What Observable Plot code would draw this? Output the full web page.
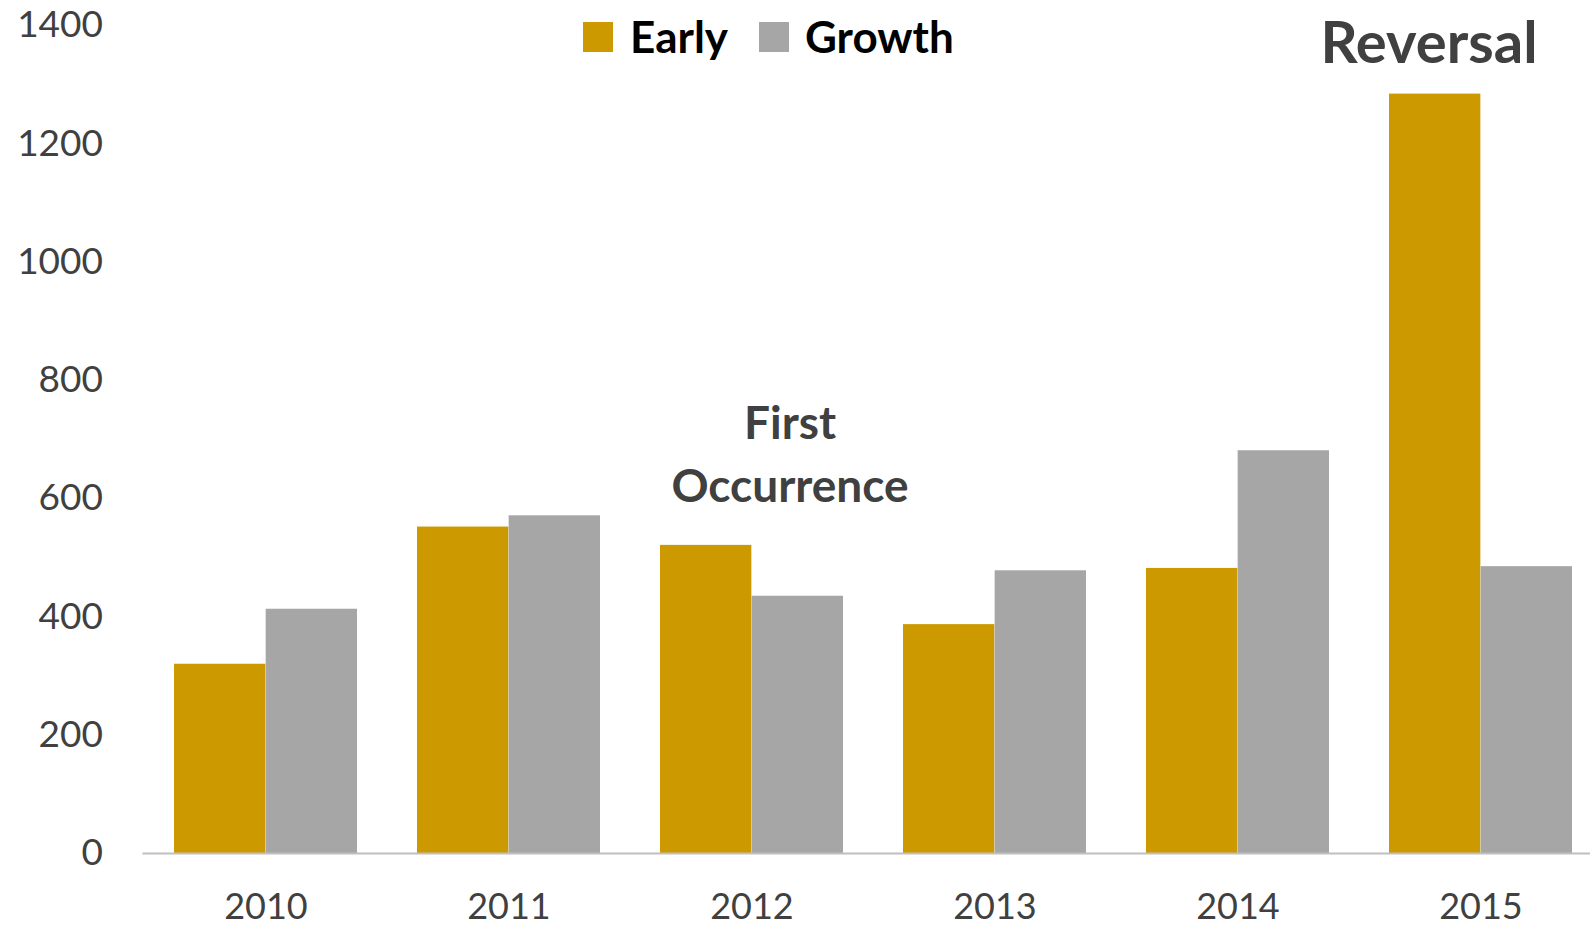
<!DOCTYPE html>
<html>
<head>
<meta charset="utf-8">
<script src="https://cdn.jsdelivr.net/npm/d3@7"></script>
<script src="https://cdn.jsdelivr.net/npm/@observablehq/plot@0.6"></script>
<style>
  html, body { margin: 0; padding: 0; background: #fff; overflow: hidden; }
  #wrap { position: relative; width: 1590px; height: 928px; font-family: Lato, "Open Sans", sans-serif; }
  #legend { position: absolute; top: 0; left: 0; width: 1590px; height: 80px; font-weight: bold; font-size: 44px; color: #000; }
  #legend .sw { position: absolute; top: 22px; width: 30px; height: 30px; }
  #legend .lab { position: absolute; top: 8px; line-height: 56px; white-space: nowrap; }
</style>
</head>
<body>
<div id="wrap">
  <div id="chart"></div>
  <div id="legend"></div>
</div>
<script>
const years = ["2010", "2011", "2012", "2013", "2014", "2015"];
const earlyValues = [320, 552, 521, 387, 482, 1284];
const growthValues = [413, 571, 435, 478, 681, 485];
const seriesNames = ["Early", "Growth"];
const seriesColors = ["#CC9900", "#A6A6A6"];
const yTicks = [0, 200, 400, 600, 800, 1000, 1200, 1400];
const annotations = [
  {year: "2012", value: 594, text: "First\nOccurrence"},
  {year: "2015", value: 1336, text: "Reversal"}
];

const early = years.map((y, i) => ({year: y, value: earlyValues[i]}));
const growth = years.map((y, i) => ({year: y, value: growthValues[i]}));

const xStart = 142.5, xEnd = 1604;
const padInner = 0.2475;
const step = (xEnd - xStart) / years.length;
const bw = step * (1 - padInner);
const half = bw / 2;

const chart = Plot.plot({
  width: 1590,
  height: 928,
  marginTop: 25,
  marginBottom: 75,
  marginLeft: 142.5,
  marginRight: 0,
  style: {fontFamily: "Lato, 'Open Sans', sans-serif", background: "transparent", overflow: "hidden"},
  x: {domain: years, range: [xStart, xEnd], paddingInner: padInner, paddingOuter: padInner / 2, label: null},
  y: {domain: [0, 1400], label: null},
  marks: [
    Plot.barY(early, {x: "year", y: "value", fill: seriesColors[0], insetRight: half, insetLeft: 0}),
    Plot.barY(growth, {x: "year", y: "value", fill: seriesColors[1], insetLeft: half, insetRight: 0}),
    Plot.ruleY([0], {stroke: "#BFBFBF", strokeWidth: 2}),
    Plot.axisY({ticks: yTicks, tickFormat: d => String(d), tickSize: 0, tickPadding: 40, fontSize: 37, color: "#404040", label: null}),
    Plot.axisX({tickSize: 0, tickPadding: 40, fontSize: 36, color: "#404040", label: null}),
    Plot.text([annotations[0]], {x: "year", y: "value", text: "text", dx: 38, lineAnchor: "bottom", lineHeight: 1.37, fontSize: 46, fontWeight: "bold", fill: "#404040"}),
    Plot.text([annotations[1]], {x: "year", y: "value", text: "text", dx: -52, lineAnchor: "bottom", fontSize: 58, fontWeight: "bold", fill: "#404040"})
  ]
});
document.getElementById("chart").appendChild(chart);

const legend = document.getElementById("legend");
const swatchLeft = [583, 759];
const labelLeft = [630, 805];
seriesNames.forEach((name, i) => {
  const sw = document.createElement("span");
  sw.className = "sw";
  sw.style.background = seriesColors[i];
  sw.style.left = swatchLeft[i] + "px";
  const lab = document.createElement("span");
  lab.className = "lab";
  lab.style.left = labelLeft[i] + "px";
  lab.textContent = name;
  legend.appendChild(sw);
  legend.appendChild(lab);
});
</script>
</body>
</html>
